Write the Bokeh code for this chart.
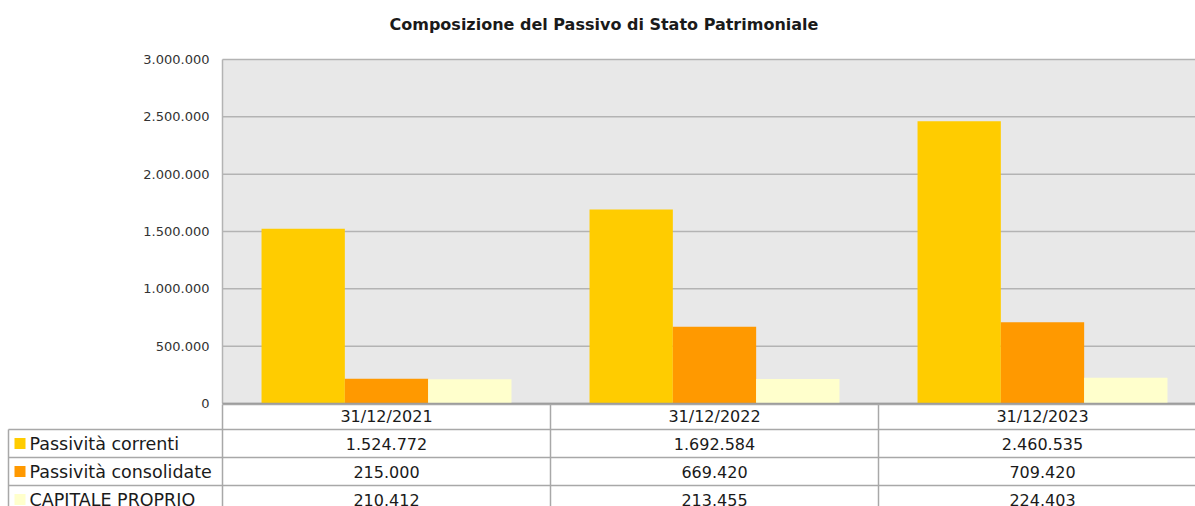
from bokeh.plotting import figure
from bokeh.models import ColumnDataSource, Range1d
from bokeh.core.properties import value
from bokeh.embed import file_html
from bokeh.resources import INLINE

# ---------------- data ----------------
categories = ["31/12/2021", "31/12/2022", "31/12/2023"]
series_names = ["Passività correnti", "Passività consolidate", "CAPITALE PROPRIO"]
passivita_correnti = [1524772, 1692584, 2460535]
passivita_consolidate = [215000, 669420, 709420]
capitale_proprio = [210412, 213455, 224403]
series_colors = ["#ffcc00", "#ff9900", "#ffffcc"]
y_ticks = [0, 500000, 1000000, 1500000, 2000000, 2500000, 3000000]
y_tick_labels = ["0", "500.000", "1.000.000", "1.500.000", "2.000.000", "2.500.000", "3.000.000"]
title_text = "Composizione del Passivo di Stato Patrimoniale"

series_values = [passivita_correnti, passivita_consolidate, capitale_proprio]

# ---------------- layout constants (pixels) ----------------
W, H = 1195, 506
FONT = "DejaVu Sans"
PLOT_LEFT = 222      # canvas x of the value axis
PLOT_TOP = 59        # canvas y of the 3.000.000 line
PLOT_BOTTOM = 403    # canvas y of the zero line
COL_W = 328          # pixel width of one category column
BAR_W = 0.254        # bar width in category units
Y_MAX = 3000000

# value range mapped so that 0 -> PLOT_BOTTOM and Y_MAX -> PLOT_TOP
per_px = Y_MAX / (PLOT_BOTTOM - PLOT_TOP)
val_start = -(H - PLOT_BOTTOM) * per_px
val_end = Y_MAX + PLOT_TOP * per_px
x_start = -PLOT_LEFT / COL_W
x_end = (W - PLOT_LEFT) / COL_W

p = figure(width=W, height=H,
           x_range=Range1d(x_start, x_end),
           y_range=Range1d(val_start, val_end),
           output_backend="svg", toolbar_location=None,
           min_border_left=0, min_border_right=0,
           min_border_top=0, min_border_bottom=0)
p.extra_x_ranges = {"px": Range1d(0, W)}
p.extra_y_ranges = {"px": Range1d(H, 0)}
p.axis.visible = False
p.grid.visible = False
p.outline_line_color = None
p.background_fill_color = "white"
p.border_fill_color = "white"

# plot area background
p.quad(left=[0], right=[x_end], bottom=[0], top=[Y_MAX],
       fill_color="#e8e8e8", line_color=None)
# horizontal grid lines
p.segment(x0=[0] * len(y_ticks), x1=[x_end] * len(y_ticks),
          y0=y_ticks, y1=y_ticks, line_color="#b3b3b3", line_width=1.5)
# left border of plot area
p.segment(x0=[0], x1=[0], y0=[0], y1=[Y_MAX], line_color="#b3b3b3", line_width=1.5)

# bars
for j, (vals, col) in enumerate(zip(series_values, series_colors)):
    src = ColumnDataSource(dict(
        x=[i + 0.5 + (j - 1) * BAR_W for i in range(len(categories))],
        top=vals,
        cat=categories,
    ))
    p.vbar(x="x", top="top", bottom=0, width=BAR_W, source=src,
           fill_color=col, line_color=None)

# zero line
p.segment(x0=[0], x1=[x_end], y0=[0], y1=[0], line_color="#9a9a9a", line_width=1.5)

# y tick labels
p.text(x=[PLOT_LEFT - 13] * len(y_ticks), y=y_ticks, text=y_tick_labels,
       x_range_name="px", text_align="right", text_baseline="middle",
       text_font=value(FONT), text_font_size="13px", text_color="#333333")

# title
p.text(x=[389], y=[24], text=[title_text], x_range_name="px", y_range_name="px",
       text_align="left", text_baseline="middle", text_font=value(FONT),
       text_font_size="16px", text_font_style="bold", text_color="#1a1a1a")

# ---------------- data table ----------------
HEADER_H = 25
ROW_H = 28
T0 = PLOT_BOTTOM + 1          # canvas y of table top
TABLE_LEFT = 8
line_col = "#a8a8a8"
n_rows = len(series_names)
col_left = [PLOT_LEFT + i * COL_W for i in range(len(categories))]
col_center = [PLOT_LEFT + (i + 0.5) * COL_W for i in range(len(categories))]

# horizontal lines
hx0, hx1, hy = [PLOT_LEFT], [W], [T0]
for r in range(n_rows):
    hx0.append(TABLE_LEFT)
    hx1.append(W)
    hy.append(T0 + HEADER_H + r * ROW_H)
p.segment(x0=hx0, x1=hx1, y0=hy, y1=hy, x_range_name="px", y_range_name="px",
          line_color=line_col, line_width=1.5)
# vertical lines
vx = col_left + [TABLE_LEFT]
vy0 = [T0] * len(categories) + [T0 + HEADER_H]
vy1 = [H] * (len(categories) + 1)
p.segment(x0=vx, x1=vx, y0=vy0, y1=vy1, x_range_name="px", y_range_name="px",
          line_color=line_col, line_width=1.5)

# header texts
p.text(x=col_center, y=[T0 + HEADER_H / 2 - 1] * len(categories), text=categories,
       x_range_name="px", y_range_name="px",
       text_align="center", text_baseline="middle",
       text_font=value(FONT), text_font_size="16px", text_color="#1a1a1a")


def fmt(v):
    return f"{v:,}".replace(",", ".")


for r, (name, vals, col) in enumerate(zip(series_names, series_values, series_colors)):
    yc = T0 + HEADER_H + r * ROW_H + ROW_H / 2
    p.rect(x=[19.5], y=[yc], width=11, height=11, x_range_name="px", y_range_name="px",
           fill_color=col, line_color=None)
    p.text(x=[29], y=[yc], text=[name], x_range_name="px", y_range_name="px",
           text_align="left", text_baseline="middle", text_font=value(FONT),
           text_font_size="17.5px", text_color="#1a1a1a")
    p.text(x=col_center, y=[yc] * len(categories), text=[fmt(v) for v in vals],
           x_range_name="px", y_range_name="px",
           text_align="center", text_baseline="middle", text_font=value(FONT),
           text_font_size="16px", text_color="#1a1a1a")

open("out.html", "w").write(file_html(p, INLINE))
